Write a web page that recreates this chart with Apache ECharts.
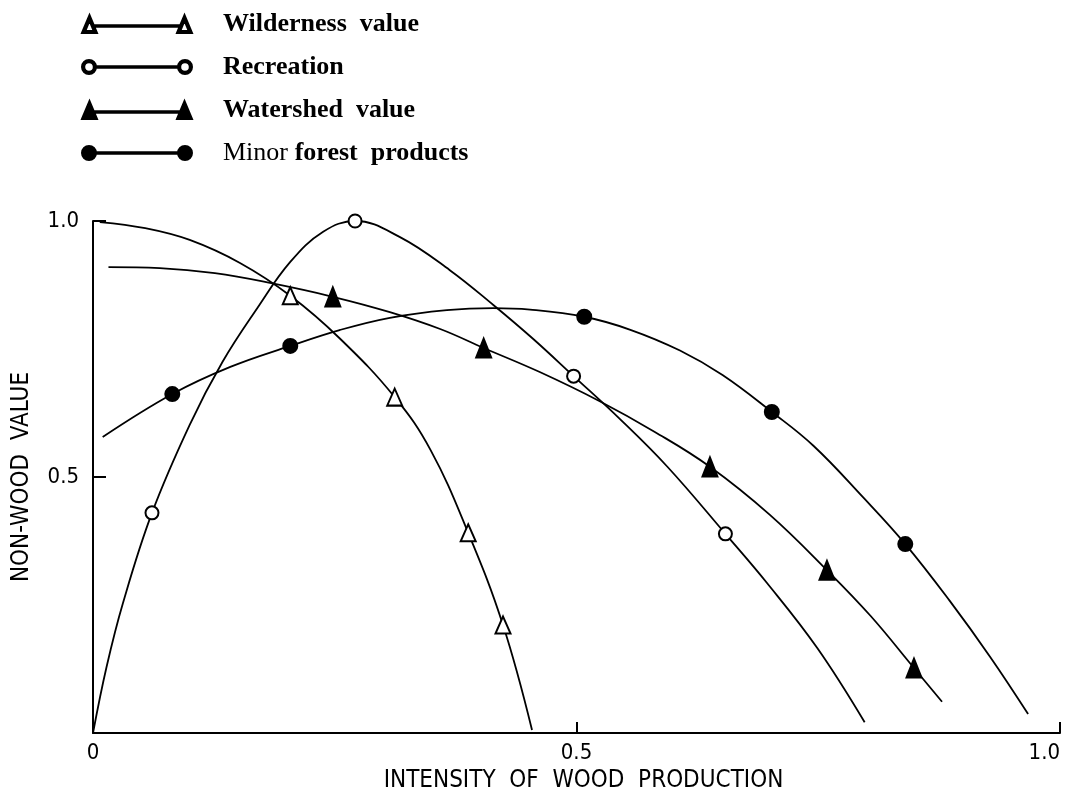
<!DOCTYPE html>
<html><head><meta charset="utf-8">
<script src="https://cdn.jsdelivr.net/npm/echarts/dist/echarts.min.js"></script>
<style>html,body{margin:0;padding:0;background:#fff}#c{width:1079px;height:804px}</style>
</head><body><div id="c"></div>
<script>
const seriesNames = ['Wilderness value', 'Recreation', 'Watershed value', 'Minor forest products'];
const xTickLabels = ['0', '0.5', '1.0'];
const yTickLabels = ['', '0.5', '1.0'];

const wildX = [0.007, 0.054, 0.100, 0.152, 0.204, 0.255, 0.312, 0.349, 0.388, 0.424, 0.454];
const wildY = [0.998, 0.986, 0.963, 0.918, 0.854, 0.771, 0.656, 0.553, 0.391, 0.211, 0.006];
const wildMarks = [4, 6, 8, 9];

const recX = [0.000, 0.014, 0.031, 0.061, 0.100, 0.134, 0.170, 0.204, 0.238, 0.271, 0.317, 0.369, 0.414, 0.455, 0.497, 0.545, 0.594, 0.654, 0.697, 0.749, 0.798];
const recY = [0.000, 0.129, 0.254, 0.430, 0.602, 0.725, 0.830, 0.920, 0.979, 1.000, 0.969, 0.904, 0.836, 0.770, 0.697, 0.613, 0.520, 0.389, 0.293, 0.166, 0.021];
const recMarks = [3, 9, 14, 17];

const shedX = [0.016, 0.069, 0.126, 0.183, 0.248, 0.307, 0.359, 0.404, 0.462, 0.524, 0.581, 0.638, 0.700, 0.759, 0.804, 0.849, 0.878];
const shedY = [0.910, 0.908, 0.898, 0.879, 0.852, 0.822, 0.789, 0.752, 0.705, 0.648, 0.588, 0.520, 0.426, 0.318, 0.229, 0.127, 0.061];
const shedMarks = [4, 7, 11, 13, 15];

const minorX = [0.010, 0.082, 0.142, 0.204, 0.255, 0.307, 0.366, 0.414, 0.452, 0.508, 0.555, 0.607, 0.651, 0.702, 0.745, 0.796, 0.840, 0.886, 0.928, 0.967];
const minorY = [0.578, 0.662, 0.715, 0.756, 0.787, 0.811, 0.826, 0.830, 0.827, 0.813, 0.788, 0.747, 0.699, 0.627, 0.561, 0.461, 0.369, 0.258, 0.148, 0.037];
const minorMarks = [1, 3, 9, 13, 16];

const axisFont = "'DejaVu Sans Condensed', 'Liberation Sans Narrow', 'DejaVu Sans', sans-serif";
const serif = "'Liberation Serif', 'DejaVu Serif', serif";

function build(xs, ys, marks, sym, size) {
  return xs.map((x, i) => ({
    value: [x, ys[i]],
    symbol: marks.includes(i) ? sym : 'none',
    symbolSize: size
  }));
}

function mkSeries(name, data) {
  return {
    name: name, type: 'line', data: data, smooth: 0.4, showSymbol: true,
    clip: false, animation: false, silent: true,
    lineStyle: { color: '#000', width: 1.8 },
    itemStyle: { color: '#000', borderColor: '#000', borderWidth: 2 }
  };
}

// legend icons: symbol - line - symbol
const triHollow = 'path://M0 18 L7.5 0 L15 18 Z M3.2 16 L11.8 16 L7.5 5.5 Z M11 10.2 L99 10.2 L99 11.8 L11 11.8 Z M95 18 L102.5 0 L110 18 Z M98.2 16 L106.8 16 L102.5 5.5 Z';
const triFilled = 'path://M0 18 L7.5 0 L15 18 Z M11 10.2 L99 10.2 L99 11.8 L11 11.8 Z M95 18 L102.5 0 L110 18 Z';
const circHollow = 'path://M0 9 A7 7 0 1 1 14 9 A7 7 0 1 1 0 9 Z M2.2 9 A4.8 4.8 0 1 0 11.8 9 A4.8 4.8 0 1 0 2.2 9 Z M13 8.2 L97 8.2 L97 9.8 L13 9.8 Z M96 9 A7 7 0 1 1 110 9 A7 7 0 1 1 96 9 Z M98.2 9 A4.8 4.8 0 1 0 107.8 9 A4.8 4.8 0 1 0 98.2 9 Z';
const circFilled = 'path://M0 9 A7 7 0 1 1 14 9 A7 7 0 1 1 0 9 Z M13 8.2 L97 8.2 L97 9.8 L13 9.8 Z M96 9 A7 7 0 1 1 110 9 A7 7 0 1 1 96 9 Z';

const chart = echarts.init(document.getElementById('c'), null, { renderer: 'canvas' });
chart.setOption({
  backgroundColor: '#fff',
  animation: false,
  legend: {
    orient: 'vertical', left: 76, top: 6, itemGap: 17,
    itemWidth: 110, itemHeight: 18, selectedMode: false,
    data: [
      { name: seriesNames[0], icon: triHollow },
      { name: seriesNames[1], icon: circHollow },
      { name: seriesNames[2], icon: triFilled },
      { name: seriesNames[3], icon: circFilled }
    ],
    formatter: function (n) {
      if (n === 'Minor forest products') return '{n|Minor}  {b|forest  products}';
      return '{b|' + n.replace(' ', '  ') + '}';
    },
    textStyle: {
      color: '#000', padding: [0, 0, 0, 26],
      rich: {
        b: { fontFamily: serif, fontWeight: 'bold', fontSize: 26, color: '#000' },
        n: { fontFamily: serif, fontWeight: 'normal', fontSize: 26, color: '#000' }
      }
    }
  },
  grid: { left: 93, right: 19, top: 221, bottom: 71, containLabel: false },
  xAxis: {
    type: 'value', min: 0, max: 1, interval: 0.5,
    name: 'INTENSITY  OF  WOOD  PRODUCTION', nameLocation: 'middle', nameGap: 23,
    nameTextStyle: { fontFamily: axisFont, fontSize: 24, color: '#000', padding: [0, 0, 0, 14] },
    axisLine: { lineStyle: { color: '#000', width: 2 } },
    axisTick: { inside: true, length: 11, lineStyle: { color: '#000', width: 2 } },
    axisLabel: { color: '#000', fontFamily: axisFont, fontSize: 22, margin: 9, alignMaxLabel: 'right',
      formatter: v => xTickLabels[Math.round(v * 2)] },
    splitLine: { show: false }
  },
  yAxis: {
    type: 'value', min: 0, max: 1, interval: 0.5,
    name: 'NON-WOOD  VALUE', nameLocation: 'middle', nameGap: 59,
    nameTextStyle: { fontFamily: axisFont, fontSize: 24, color: '#000' },
    axisLine: { lineStyle: { color: '#000', width: 2 } },
    axisTick: { inside: true, length: 13, lineStyle: { color: '#000', width: 2 } },
    axisLabel: { color: '#000', fontFamily: axisFont, fontSize: 22, margin: 14,
      formatter: v => yTickLabels[Math.round(v * 2)] },
    splitLine: { show: false }
  },
  series: [
    mkSeries(seriesNames[0], build(wildX, wildY, wildMarks, 'emptyTriangle', [15, 17])),
    mkSeries(seriesNames[1], build(recX, recY, recMarks, 'emptyCircle', 13)),
    mkSeries(seriesNames[2], build(shedX, shedY, shedMarks, 'triangle', [15, 19])),
    mkSeries(seriesNames[3], build(minorX, minorY, minorMarks, 'circle', 14))
  ]
});
</script></body></html>
